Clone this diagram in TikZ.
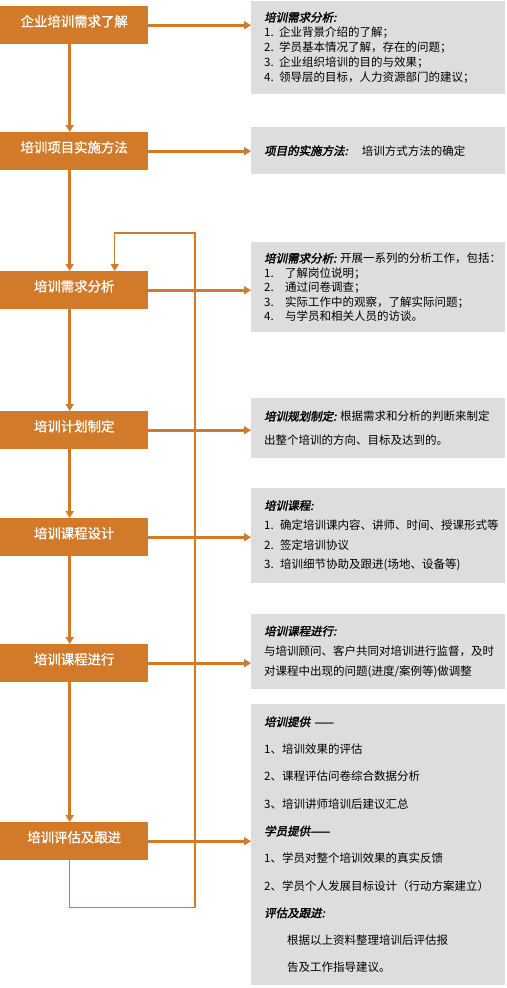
\documentclass[tikz,border=0pt]{standalone}
\usepackage{fontspec}
\setmainfont{Noto Sans CJK SC}
\newfontfamily\stepfont[FakeBold=1]{Noto Sans CJK SC}
\newfontfamily\headfont[FakeBold=2,FakeSlant=0.2]{Noto Sans CJK SC}
\usetikzlibrary{arrows.meta,positioning,calc}
\usepackage{xcolor}
\definecolor{FlowOrange}{RGB}{208,122,42}
\definecolor{NoteGray}{RGB}{221,221,221}
\newcommand{\hd}[1]{{\headfont #1}}
\newcommand{\nr}[2][15bp]{\makebox[#1][l]{#2}}
\tikzset{
  stepbox/.style={fill=FlowOrange, draw=none, anchor=north west,
    minimum width=148bp, minimum height=38bp, inner sep=0pt,
    text height=12bp, text depth=9.6bp, text=white,
    font=\stepfont\fontsize{13.4bp}{15bp}\selectfont},
  notebox/.style={fill=NoteGray, draw=none, anchor=north west,
    minimum width=254bp, text width=228bp, inner xsep=13bp, inner ysep=0pt,
    align=left, font=\fontsize{11.5bp}{#1}\selectfont},
  notebox/.default=15bp,
  flow/.style={-{Triangle[length=7bp,width=8bp]}, line width=3bp, FlowOrange},
  backloop/.style={-{Triangle[length=7bp,width=8bp]}, line width=1.3bp, FlowOrange}
}

\begin{document}
\begin{tikzpicture}[x=1bp, y=-1bp]
  \useasboundingbox (0,0) rectangle (507,988);
  % steps
  \node[stepbox] (o1) at (0,6) {企业培训需求了解};
  \node[stepbox] (o2) at (0,132) {培训项目实施方法};
  \node[stepbox] (o3) at (0,271) {培训需求分析};
  \node[stepbox] (o4) at (0,411) {培训计划制定};
  \node[stepbox] (o5) at (0,518) {培训课程设计};
  \node[stepbox] (o6) at (0,644) {培训课程进行};
  \node[stepbox] (o7) at (0,822) {培训评估及跟进};
  % notes
  \node[notebox, minimum height=93bp] (g1) at (251,1) {\hd{培训需求分析:}\\
    \nr{1.}企业背景介绍的了解；\\
    \nr{2.}学员基本情况了解，存在的问题；\\
    \nr{3.}企业组织培训的目的与效果；\\
    \nr{4.}领导层的目标，人力资源部门的建议；};
  \node[notebox, minimum height=47bp] (g2) at (251,127)
    {\hd{项目的实施方法:}\hspace{14bp}培训方式方法的确定};
  \node[notebox=14.5bp, minimum height=90bp] (g3) at (251,242)
    {\hd{培训需求分析:}~开展一系列的分析工作，包括：\\
    \nr[21bp]{1.}了解岗位说明；\\
    \nr[21bp]{2.}通过问卷调查；\\
    \nr[21bp]{3.}实际工作中的观察，了解实际问题；\\
    \nr[21bp]{4.}与学员和相关人员的访谈。};
  \node[notebox=24bp, minimum height=60bp] (g4) at (251,398)
    {\hd{培训规划制定:}~根据需求和分析的判断来制定\\
    出整个培训的方向、目标及达到的。};
  \node[notebox=19.7bp, minimum height=95bp] (g5) at (251,488) {\hd{培训课程:}\\
    \nr[16bp]{1.}确定培训课内容、讲师、时间、授课形式等\\
    \nr[16bp]{2.}签定培训协议\\
    \nr[16bp]{3.}培训细节协助及跟进(场地、设备等)};
  \node[notebox=20bp, minimum height=75bp] (g6) at (251,614) {\hd{培训课程进行:}\\
    与培训顾问、客户共同对培训进行监督，及时\\
    对课程中出现的问题(进度/案例等)做调整};
  \node[notebox=27.3bp, minimum height=281bp] (g7) at (251,704) {\hd{培训提供~——}\\
    1、培训效果的评估\\
    2、课程评估问卷综合数据分析\\
    3、培训讲师培训后建议汇总\\
    \hd{学员提供——}\\
    1、学员对整个培训效果的真实反馈\\
    2、学员个人发展目标设计（行动方案建立）\\
    \hd{评估及跟进:}\\
    \hspace*{23bp}根据以上资料整理培训后评估报\\
    \hspace*{23bp}告及工作指导建议。};
  % arrows
  \foreach \a/\b in {o1/o2,o2/o3,o3/o4,o4/o5,o5/o6,o6/o7}
    \draw[flow] ([xshift=-4.5bp]\a.south) -- ([xshift=-4.5bp]\b.north);
  \foreach \i in {1,...,7}
    \draw[flow] (o\i.east) -- (o\i.east -| g\i.west);
  % feedback
  \coordinate (loop) at (195,233);
  \draw[backloop] ([xshift=-4.5bp]o7.south) -- ++(0,47) -| (loop)
    -| ([xshift=40.5bp]o3.north);
\end{tikzpicture}
\end{document}
